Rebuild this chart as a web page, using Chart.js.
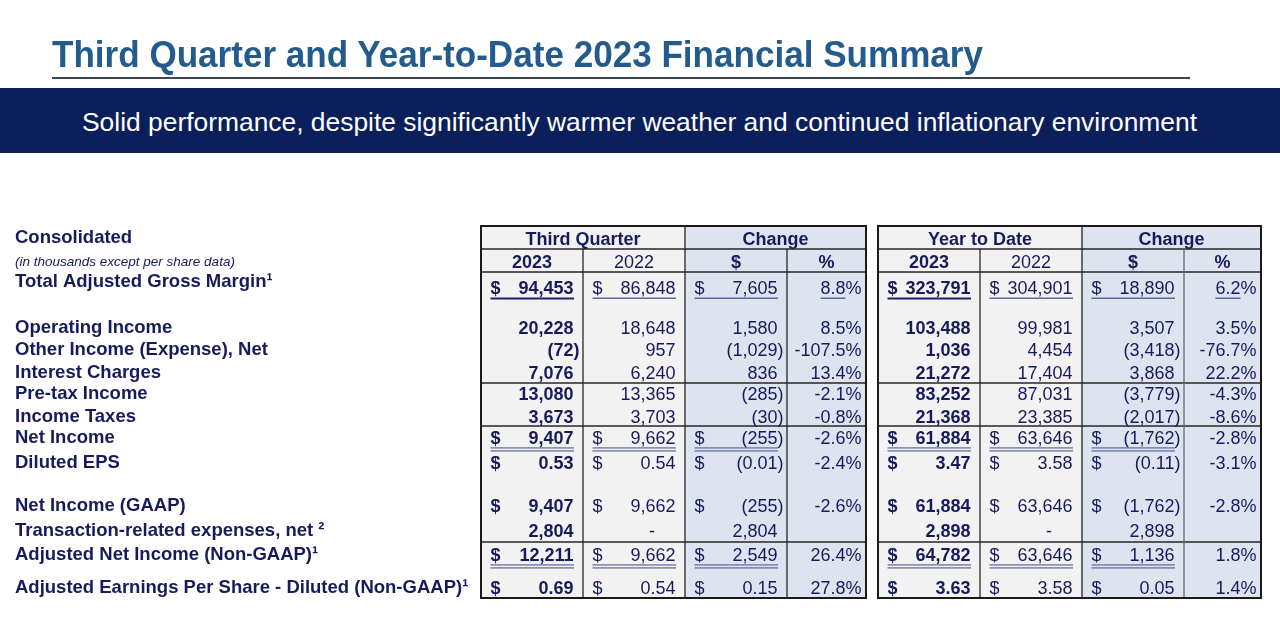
<!DOCTYPE html>
<html>
<head>
<meta charset="utf-8">
<script src="https://cdn.jsdelivr.net/npm/chart.js@4.4.1/dist/chart.umd.min.js"></script>
<style>
html,body{margin:0;padding:0;background:#fff;width:1280px;height:625px;overflow:hidden;}
#wrap{position:absolute;left:0;top:0;width:1280px;height:625px;}
#title{position:absolute;left:52px;top:37px;font:bold 36px 'Liberation Sans Narrow','Liberation Sans',Arial,sans-serif;color:#245b8d;white-space:nowrap;line-height:36px;transform-origin:0 0;z-index:2;}
#rule{position:absolute;left:52px;top:77px;width:1138px;height:2px;background:#3d4455;z-index:2;}
#banner{position:absolute;left:0;top:88px;width:1280px;height:65px;background:#0b1f5b;z-index:1;}
#sub{position:absolute;left:82px;top:110px;font:25px 'Liberation Sans',Arial,sans-serif;color:#fff;white-space:nowrap;line-height:25px;transform-origin:0 0;z-index:2;}
</style>
</head>
<body>
<div id="wrap"><canvas id="c"></canvas></div>
<div id="title">Third Quarter and Year-to-Date 2023 Financial Summary</div>
<div id="rule"></div>
<div id="banner"></div>
<div id="sub">Solid performance, despite significantly warmer weather and continued inflationary environment</div>
<script>
// ---------- DATA ----------
const headerLabels = ['Consolidated', '(in thousands except per share data)'];
const rowLabels = [
  'Total Adjusted Gross Margin¹',
  'Operating Income',
  'Other Income (Expense), Net',
  'Interest Charges',
  'Pre-tax Income',
  'Income Taxes',
  'Net Income',
  'Diluted EPS',
  'Net Income (GAAP)',
  'Transaction-related expenses, net ²',
  'Adjusted Net Income (Non-GAAP)¹',
  'Adjusted Earnings Per Share - Diluted (Non-GAAP)¹'
];
const periodTitles = ['Third Quarter', 'Year to Date'];
const changeTitle = 'Change';
const yearLabels = ['2023', '2022'];
const changeUnits = ['$', '%'];

const q2023 = [94453, 20228, -72, 7076, 13080, 3673, 9407, 0.53, 9407, 2804, 12211, 0.69];
const q2022 = [86848, 18648, 957, 6240, 13365, 3703, 9662, 0.54, 9662, null, 9662, 0.54];
const qChange = [7605, 1580, -1029, 836, -285, -30, -255, -0.01, -255, 2804, 2549, 0.15];
const qPct = [8.8, 8.5, -107.5, 13.4, -2.1, -0.8, -2.6, -2.4, -2.6, null, 26.4, 27.8];

const ytd2023 = [323791, 103488, 1036, 21272, 83252, 21368, 61884, 3.47, 61884, 2898, 64782, 3.63];
const ytd2022 = [304901, 99981, 4454, 17404, 87031, 23385, 63646, 3.58, 63646, null, 63646, 3.58];
const ytdChange = [18890, 3507, -3418, 3868, -3779, -2017, -1762, -0.11, -1762, 2898, 1136, 0.05];
const ytdPct = [6.2, 3.5, -76.7, 22.2, -4.3, -8.6, -2.8, -3.1, -2.8, null, 1.8, 1.4];

const dollarRows = [0, 6, 7, 8, 10, 11];
const perShareRows = [7, 11];
const singleUnderlineRows = [0];
const doubleUnderlineRows = [6, 10];

// ---------- LAYOUT (table units, not data) ----------
const X_MAX = 780, Y_MAX = 372;
const COL_EDGES = [[0, 102, 204, 306, 385], [397, 499, 601, 703, 780]];
const HEAD1_BOTTOM = 23, HEAD2_BOTTOM = 46;
const HEAD1_Y = 13, HEAD2_Y = 35.7;
const ROW_RULES = [157, 200, 316];
const LABEL_POS = [12, 36, 56, 102, 124, 146.5, 168, 190.5, 212, 237, 280, 305, 329, 362];
const VALUE_POS = [62, 102, 124, 146.5, 168, 190.5, 212, 237, 280, 305, 329, 362];

const NAVY = '#161b5c';
const FF = "'Liberation Sans', Arial, sans-serif";
const FS = 18;
const GREY_BG = '#f2f2f2', BLUE_BG = '#dde4ef';

function withCommas(n) {
  const s = String(n);
  return s.replace(/\B(?=(\d{3})+(?!\d))/g, ',');
}
function fmt(v, perShare) {
  const a = Math.abs(v);
  const s = perShare ? a.toFixed(2) : withCommas(Math.round(a));
  return v < 0 ? '(' + s + ')' : s;
}

const tablePlugin = {
  id: 'finTable',
  afterDatasetsDraw(chart) {
    const ctx = chart.ctx;
    const xs = chart.scales.x, ys = chart.scales.y;
    const X = v => xs.getPixelForValue(v);
    const Y = v => ys.getPixelForValue(v);
    const blocks = [
      {title: periodTitles[0], cols: [q2023, q2022, qChange, qPct]},
      {title: periodTitles[1], cols: [ytd2023, ytd2022, ytdChange, ytdPct]}
    ];
    ctx.save();
    blocks.forEach((b, bi) => {
      const e = COL_EDGES[bi].map(X);
      const top = Y(0), bot = Y(Y_MAX);
      // backgrounds
      ctx.fillStyle = GREY_BG; ctx.fillRect(e[0], top, e[2] - e[0], bot - top);
      ctx.fillStyle = BLUE_BG; ctx.fillRect(e[2], top, e[4] - e[2], bot - top);

      ctx.fillStyle = NAVY;
      ctx.textBaseline = 'alphabetic';
      // header row 1
      ctx.font = 'bold ' + FS + 'px ' + FF;
      ctx.textAlign = 'center';
      ctx.fillText(b.title, (e[0] + e[2]) / 2, Y(HEAD1_Y) + 0.36 * FS);
      ctx.fillText(changeTitle, (e[2] + e[4]) / 2, Y(HEAD1_Y) + 0.36 * FS);
      // header row 2
      const subs = [yearLabels[0], yearLabels[1], changeUnits[0], changeUnits[1]];
      subs.forEach((s, ci) => {
        ctx.font = (ci === 1 ? '' : 'bold ') + FS + 'px ' + FF;
        ctx.fillText(s, (e[ci] + e[ci + 1]) / 2, Y(HEAD2_Y) + 0.36 * FS);
      });

      // values
      b.cols.forEach((col, ci) => {
        const L = e[ci], R = e[ci + 1];
        const bold = ci === 0;
        col.forEach((v, ri) => {
          const yc = Y(VALUE_POS[ri]);
          const base = yc + 0.36 * FS;
          ctx.font = (bold ? 'bold ' : '') + FS + 'px ' + FF;
          ctx.fillStyle = NAVY;
          const perShare = perShareRows.includes(ri);
          if (ci === 3) {
            if (v === null) return;
            const txt = v.toFixed(1) + '%';
            ctx.textAlign = 'right';
            ctx.fillText(txt, R - 4.5, base);
            if (singleUnderlineRows.includes(ri)) {
              const w = ctx.measureText(txt).width, wp = ctx.measureText('%').width;
              ctx.fillStyle = '#5d6898';
              ctx.fillRect(R - 4.5 - w, yc + 9.5, w - wp, 1.5);
            }
            return;
          }
          const parenW = ctx.measureText(')').width;
          if (dollarRows.includes(ri)) {
            ctx.textAlign = 'left';
            ctx.fillText('$', L + 9.5, base);
          }
          ctx.textAlign = 'right';
          if (v === null) {
            ctx.fillText('-', R - 30, base);
          } else {
            ctx.fillText(fmt(v, perShare), v < 0 ? R - 3.5 : R - 3.5 - parenW, base);
          }
          if (singleUnderlineRows.includes(ri)) {
            ctx.fillStyle = bold ? '#1d2366' : '#5d6898';
            ctx.fillRect(L + 9.5, yc + 9.5, (R - 9) - (L + 9.5), bold ? 2 : 1.5);
          }
          if (doubleUnderlineRows.includes(ri)) {
            ctx.fillStyle = '#6f7aa8';
            ctx.fillRect(L + 9.5, yc + 9.2, (R - 9) - (L + 9.5), 1.4);
            ctx.fillRect(L + 9.5, yc + 12.2, (R - 9) - (L + 9.5), 1.4);
          }
        });
      });

      // rules
      ctx.strokeStyle = '#262626';
      ctx.lineWidth = 1.3;
      const hl = (yv) => { ctx.beginPath(); ctx.moveTo(e[0], Y(yv)); ctx.lineTo(e[4], Y(yv)); ctx.stroke(); };
      [HEAD1_BOTTOM, HEAD2_BOTTOM].concat(ROW_RULES).forEach(hl);
      const vl = (x, y0, y1) => { ctx.beginPath(); ctx.moveTo(x, Y(y0)); ctx.lineTo(x, Y(y1)); ctx.stroke(); };
      vl(e[2], 0, Y_MAX);
      vl(e[1], HEAD1_BOTTOM, Y_MAX);
      if (bi === 1) ctx.strokeStyle = '#6a6a6a';
      vl(e[3], HEAD1_BOTTOM, Y_MAX);
      // outer border
      ctx.strokeStyle = '#1a1a1a';
      ctx.lineWidth = 2;
      ctx.strokeRect(e[0], Y(0), e[4] - e[0], Y(Y_MAX) - Y(0));
    });
    ctx.restore();
  }
};

const allLabels = headerLabels.concat(rowLabels);

new Chart(document.getElementById('c'), {
  type: 'scatter',
  data: {datasets: []},
  plugins: [tablePlugin],
  options: {
    responsive: true,
    maintainAspectRatio: false,
    animation: false,
    events: [],
    layout: {padding: {left: 15, right: 19, top: 226, bottom: 27}},
    plugins: {legend: {display: false}, tooltip: {enabled: false}, title: {display: false}},
    scales: {
      x: {type: 'linear', min: 0, max: X_MAX, display: false},
      y: {
        type: 'linear', min: 0, max: Y_MAX, reverse: true,
        grid: {display: false}, border: {display: false},
        afterBuildTicks: (s) => { s.ticks = LABEL_POS.map(v => ({value: v})); },
        afterFit: (s) => { s.width = 466; },
        ticks: {
          autoSkip: false, maxRotation: 0, crossAlign: 'far', padding: 0,
          color: NAVY,
          font: (c) => c.index === 1
            ? {family: FF, size: 13.5, style: 'italic', weight: 'normal'}
            : {family: FF, size: 18.5, weight: 'bold'},
          callback: (value, index) => allLabels[index]
        }
      }
    }
  }
});

function fit(id, target) {
  const el = document.getElementById(id);
  const w = el.getBoundingClientRect().width;
  el.style.transform = 'scaleX(' + (target / w) + ')';
}
fit('title', 931);
fit('sub', 1115);
</script>
</body>
</html>
